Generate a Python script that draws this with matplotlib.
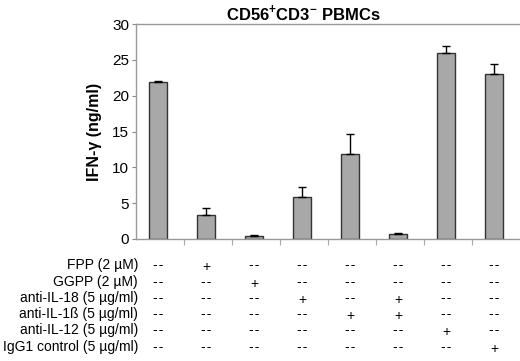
import numpy as np
import matplotlib.pyplot as plt
from matplotlib.transforms import blended_transform_factory

plt.rcParams['font.family'] = ['Liberation Sans', 'DejaVu Sans']
plt.rcParams['mathtext.fontset'] = 'custom'
plt.rcParams['mathtext.rm'] = 'Liberation Sans'
plt.rcParams['mathtext.bf'] = 'Liberation Sans:bold'

# IFN-gamma values (ng/ml) and upper error bars
values = [21.9, 3.35, 0.42, 5.9, 11.9, 0.7, 26.0, 23.05]
errors = [0.1, 1.0, 0.1, 1.4, 2.7, 0.1, 0.9, 1.3]

treatments = [
    "FPP (2 µM)",
    "GGPP (2 µM)",
    "anti-IL-18 (5 µg/ml)",
    "anti-IL-1ß (5 µg/ml)",
    "anti-IL-12 (5 µg/ml)",
    "IgG1 control (5 µg/ml)",
]
# 1 = "+", 0 = "--"; one row per treatment, one column per bar
design = [
    [0, 1, 0, 0, 0, 0, 0, 0],
    [0, 0, 1, 0, 0, 0, 0, 0],
    [0, 0, 0, 1, 0, 1, 0, 0],
    [0, 0, 0, 0, 1, 1, 0, 0],
    [0, 0, 0, 0, 0, 0, 1, 0],
    [0, 0, 0, 0, 0, 0, 0, 1],
]

fig = plt.figure(figsize=(5.2, 3.61), dpi=100)
ax = fig.add_axes([136 / 520, 122 / 361, 384 / 520, 215 / 361])

x = np.arange(len(values))
ax.bar(x - 0.04, values, width=0.37, color="#a8a8a8", edgecolor="#333333", linewidth=1.0)
ax.errorbar(x - 0.04, values, yerr=[np.zeros(len(errors)), errors], fmt="none",
            ecolor="black", elinewidth=1.0, capsize=3, capthick=1.0)

ax.set_xlim(-0.5, 7.5)
ax.set_ylim(0, 30)
ax.set_yticks(range(0, 31, 5))
ax.set_xticks(np.arange(0.5, 7, 1))
ax.set_xticklabels([])
ax.tick_params(axis="y", length=3, color="#888888", labelsize=11, pad=2)
ax.tick_params(axis="x", length=4, color="#aaaaaa")
for side in ["left", "top", "bottom"]:
    ax.spines[side].set_color("#999999")
    ax.spines[side].set_linewidth(1.0)
ax.spines["right"].set_visible(False)

ax.set_ylabel("IFN-γ (ng/ml)", fontsize=11.5, fontweight="bold", labelpad=7)
fig.text(303 / 520, 1 - 13 / 361, r"CD56$^{\mathbf{+}}$CD3$^{\mathbf{-}}$ PBMCs",
         ha="center", va="center", fontsize=12, fontweight="bold")

# treatment table below the axis
row_y = [265, 282, 298, 314, 330, 347]
trans = blended_transform_factory(ax.transData, fig.transFigure)
for r, label in enumerate(treatments):
    yf = 1 - row_y[r] / 361
    fig.text(138 / 520, yf, label, ha="right", va="center", fontsize=10)
    for c, flag in enumerate(design[r]):
        ax.text(x[c] - 0.04, yf - (0.006 if flag else 0),
                "+" if flag else "-\u200a-",
                transform=trans, ha="center", va="center", fontsize=10,
                clip_on=False)

fig.savefig("out.png", dpi=100)
